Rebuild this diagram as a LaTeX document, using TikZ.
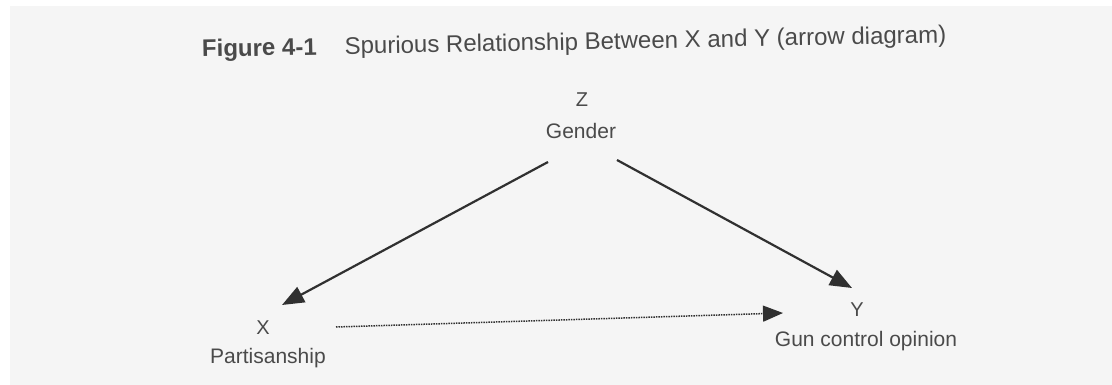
\documentclass[tikz,border=0pt]{standalone}
\usepackage{fontspec}
\setmainfont{Liberation Sans}
\usetikzlibrary{arrows.meta}
\definecolor{inkgray}{HTML}{4A4A4A}
\definecolor{linegray}{HTML}{303030}
\definecolor{papergray}{HTML}{F5F5F5}
\tikzset{
  varsym/.style={inner sep=1pt, text=inkgray, font=\fontsize{20}{22}\selectfont},
  varname/.style={inner sep=1pt, text=inkgray, font=\fontsize{21}{23}\selectfont},
  causal/.style={line width=2.2pt, draw=linegray, -{Triangle[length=22pt,width=17pt]}},
  spurious/.style={line width=1.5pt, draw=linegray, densely dotted, -{Triangle[length=20pt,width=16pt]}}
}
\begin{document}
\begin{tikzpicture}[x=1pt, y=-1pt]
\useasboundingbox (0,0) rectangle (1112,385);
\fill[white] (0,0) rectangle (1112,385);
\fill[papergray] (10,6) rectangle (1112,385);
% title
\node[anchor=base west, inner sep=0pt, text=inkgray, rotate=1.1,
    font=\fontsize{24}{26}\selectfont] (title) at (202,57)
    {\textbf{Figure 4-1}\hspace{28pt}Spurious Relationship Between X and Y (arrow diagram)};
% variables
\node[varsym] (zsym) at (582,100) {Z};
\node[varname] (zname) at (581,131) {Gender};
\node[varsym] (xsym) at (263,328) {X};
\node[varname] (xname) at (268,358) {Partisanship};
\node[varsym] (ysym) at (857,310) {Y};
\node[varname] (yname) at (866,341) {Gun control opinion};
% arrows
\draw[causal] ([shift={(-33,31)}]zname.center) -- ([shift={(19,-23)}]xsym.center);
\draw[causal] ([shift={(36,29)}]zname.center) -- ([shift={(-5,-22)}]ysym.center);
\draw[spurious] ([shift={(73,-1)}]xsym.center) -- ([shift={(-74,3)}]ysym.center);
\end{tikzpicture}
\end{document}
